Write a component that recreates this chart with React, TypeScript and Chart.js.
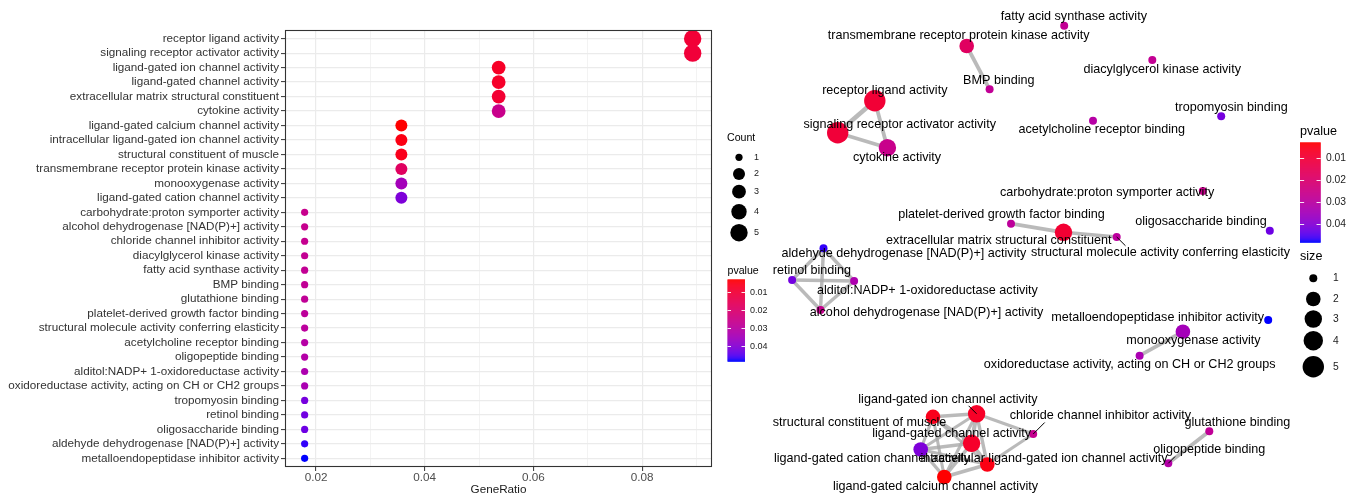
import React, { useEffect, useRef } from "react";
import { Chart, registerables } from "chart.js";

Chart.register(...registerables);

const FONT = "'Liberation Sans', Arial, Helvetica, sans-serif";

// ---------------- data ----------------
const terms = [
  "receptor ligand activity",
  "signaling receptor activator activity",
  "ligand-gated ion channel activity",
  "ligand-gated channel activity",
  "extracellular matrix structural constituent",
  "cytokine activity",
  "ligand-gated calcium channel activity",
  "intracellular ligand-gated ion channel activity",
  "structural constituent of muscle",
  "transmembrane receptor protein kinase activity",
  "monooxygenase activity",
  "ligand-gated cation channel activity",
  "carbohydrate:proton symporter activity",
  "alcohol dehydrogenase [NAD(P)+] activity",
  "chloride channel inhibitor activity",
  "diacylglycerol kinase activity",
  "fatty acid synthase activity",
  "BMP binding",
  "glutathione binding",
  "platelet-derived growth factor binding",
  "structural molecule activity conferring elasticity",
  "acetylcholine receptor binding",
  "oligopeptide binding",
  "alditol:NADP+ 1-oxidoreductase activity",
  "oxidoreductase activity, acting on CH or CH2 groups",
  "tropomyosin binding",
  "retinol binding",
  "oligosaccharide binding",
  "aldehyde dehydrogenase [NAD(P)+] activity",
  "metalloendopeptidase inhibitor activity",
];

const geneRatio = [
  0.0893, 0.0893, 0.0536, 0.0536, 0.0536, 0.0536, 0.0357, 0.0357, 0.0357, 0.0357,
  0.0357, 0.0357, 0.0179, 0.0179, 0.0179, 0.0179, 0.0179, 0.0179, 0.0179, 0.0179,
  0.0179, 0.0179, 0.0179, 0.0179, 0.0179, 0.0179, 0.0179, 0.0179, 0.0179, 0.0179,
];

const counts = [5, 5, 3, 3, 3, 3, 2, 2, 2, 2, 2, 2, 1, 1, 1, 1, 1, 1, 1, 1, 1, 1, 1, 1, 1, 1, 1, 1, 1, 1];

const pvalues = [
  0.0095, 0.0100, 0.0070, 0.0075, 0.0090, 0.0260, 0.0030, 0.0045, 0.0055, 0.0175,
  0.0350, 0.0410, 0.0262, 0.0265, 0.0268, 0.0275, 0.0278, 0.0280, 0.0282, 0.0290,
  0.0295, 0.0310, 0.0315, 0.0330, 0.0335, 0.0420, 0.0425, 0.0430, 0.0470, 0.0480,
];

const ratioTicks = [0.02, 0.03, 0.04, 0.05, 0.06, 0.07, 0.08, 0.09];
const legendCounts = [1, 2, 3, 4, 5];
const pvalueTicks = [0.01, 0.02, 0.03, 0.04];

// enrichment map layout coordinates (same order as terms)
const nodeX = [
  11.48, 7.77, 21.66, 21.16, 30.35, 12.74, 18.43, 22.73, 17.3, 20.67,
  42.29, 16.07, 44.28, 6.05, 27.32, 39.23, 30.42, 22.96, 44.93, 25.1,
  35.67, 33.3, 40.83, 9.41, 37.96, 46.12, 3.21, 50.98, 6.35, 50.82,
];
const nodeY = [
  39.73, 36.53, 8.42, 5.47, 26.57, 35.03, 2.1, 3.35, 8.12, 45.2,
  16.63, 4.85, 30.7, 18.8, 6.4, 43.8, 47.23, 40.87, 6.67, 27.43,
  26.1, 37.73, 3.47, 21.7, 14.23, 38.17, 21.8, 26.73, 24.97, 17.8,
];

// edges (term index pairs) and their similarity
const edgeFrom = [9, 0, 0, 1, 19, 4, 28, 28, 28, 26, 26, 23, 10, 18, 2, 2, 2, 2, 2, 2, 8, 8, 8, 8, 3, 3, 3, 11, 11, 7, 7];
const edgeTo = [17, 1, 5, 5, 4, 20, 26, 23, 13, 23, 13, 13, 24, 22, 8, 3, 11, 7, 6, 14, 3, 11, 6, 7, 11, 7, 6, 6, 7, 6, 14];
const edgeSimilarity = [
  0.8, 1.0, 0.8, 0.8, 0.8, 0.7, 0.7, 0.7, 0.7, 0.7, 0.7, 0.7, 0.8, 0.8, 0.7, 0.9,
  0.6, 0.7, 0.6, 0.6, 0.6, 0.6, 0.6, 0.5, 0.7, 0.8, 0.7, 0.7, 0.6, 0.8, 0.6,
];

// ---------------- style ----------------
const labelDX = [
  10, 62, -28.7, -19.9, -64.7, 9.6, -8.8, 56.7, -73.5, -8.1,
  10.5, -48.7, -95.7, 106, 67.2, 9.9, 9.6, 9.2, 28.1, -9.5,
  43.8, 8.7, 41, 73.3, -9.9, 10.1, 19.8, -68.8, 80.4, -110.6,
];
const labelDY = [
  -9.7, -8.4, -14.5, -9.3, 8.4, 10, 9.7, -5.5, 5.9, -10,
  9, 9.5, 1.3, 2.7, -18, 10, -9, -8.6, -8.6, -8.7,
  15.3, 9.3, -13.3, 9.7, 9.3, -9, -9, -9, 5.7, -2,
];
const leaderLabels = [20, 2, 14, 22];
const dotRadius: Record<number, number> = { 1: 3.6, 2: 6.0, 3: 6.9, 4: 7.7, 5: 8.7 };
const nodeRadius: Record<number, number> = { 1: 4, 2: 7.3, 3: 8.7, 4: 9.7, 5: 10.7 };

// ---------------- colour (red -> blue in Lab) ----------------
function toLinear(c: number) {
  const v = c / 255;
  return v <= 0.04045 ? v / 12.92 : Math.pow((v + 0.055) / 1.055, 2.4);
}
function fromLinear(c: number) {
  const v = c <= 0.0031308 ? 12.92 * c : 1.055 * Math.pow(c, 1 / 2.4) - 0.055;
  return Math.round(Math.max(0, Math.min(1, v)) * 255);
}
function rgbToLab(rgb: number[]) {
  const R = toLinear(rgb[0]), G = toLinear(rgb[1]), B = toLinear(rgb[2]);
  const X = (0.4124 * R + 0.3576 * G + 0.1805 * B) / 0.95047;
  const Y = 0.2126 * R + 0.7152 * G + 0.0722 * B;
  const Z = (0.0193 * R + 0.1192 * G + 0.9505 * B) / 1.08883;
  const f = (t: number) => (t > 0.008856 ? Math.cbrt(t) : 7.787 * t + 16 / 116);
  const fx = f(X), fy = f(Y), fz = f(Z);
  return [116 * fy - 16, 500 * (fx - fy), 200 * (fy - fz)];
}
function labToRgb(L: number, a: number, b: number) {
  const fy = (L + 16) / 116, fx = fy + a / 500, fz = fy - b / 200;
  const inv = (t: number) => (t * t * t > 0.008856 ? t * t * t : (t - 16 / 116) / 7.787);
  const X = 0.95047 * inv(fx), Y = inv(fy), Z = 1.08883 * inv(fz);
  const R = 3.2406 * X - 1.5372 * Y - 0.4986 * Z;
  const G = -0.9689 * X + 1.8758 * Y + 0.0415 * Z;
  const B = 0.0557 * X - 0.204 * Y + 1.057 * Z;
  return [fromLinear(R), fromLinear(G), fromLinear(B)];
}
const LOW_LAB = rgbToLab([255, 0, 0]);
const HIGH_LAB = rgbToLab([0, 0, 255]);
function gradientColor(t: number) {
  const u = Math.max(0, Math.min(1, t));
  const c = labToRgb(
    LOW_LAB[0] + (HIGH_LAB[0] - LOW_LAB[0]) * u,
    LOW_LAB[1] + (HIGH_LAB[1] - LOW_LAB[1]) * u,
    LOW_LAB[2] + (HIGH_LAB[2] - LOW_LAB[2]) * u
  );
  return `rgb(${c[0]},${c[1]},${c[2]})`;
}
const pLow = Math.min(...pvalues);
const pHigh = Math.max(...pvalues);
const pColor = (p: number) => gradientColor((p - pLow) / (pHigh - pLow));

function drawColorbar(
  ctx: CanvasRenderingContext2D,
  x: number, y: number, w: number, h: number,
  titleY: number, titleSize: number, labelX: number, labelSize: number
) {
  ctx.save();
  ctx.fillStyle = "#000";
  ctx.font = `${titleSize}px ${FONT}`;
  ctx.textAlign = "left";
  ctx.textBaseline = "middle";
  ctx.fillText("pvalue", x, titleY);
  for (let i = 0; i < h; i++) {
    ctx.fillStyle = gradientColor(i / (h - 1));
    ctx.fillRect(x, y + i, w, 1.5);
  }
  ctx.strokeStyle = "rgba(255,255,255,0.9)";
  ctx.lineWidth = 1;
  ctx.font = `${labelSize}px ${FONT}`;
  pvalueTicks.forEach((v) => {
    const ty = Math.round(y + ((v - pLow) / (pHigh - pLow)) * h) + 0.5;
    ctx.beginPath();
    ctx.moveTo(x, ty);
    ctx.lineTo(x + w / 5, ty);
    ctx.moveTo(x + w - w / 5, ty);
    ctx.lineTo(x + w, ty);
    ctx.stroke();
    ctx.fillStyle = "#1A1A1A";
    ctx.fillText(v.toFixed(2), labelX, ty);
  });
  ctx.restore();
}

function drawSizeLegend(
  ctx: CanvasRenderingContext2D, title: string, titleX: number, titleY: number, titleSize: number,
  cx: number, ys: number[], radius: Record<number, number>, labelX: number, labelSize: number
) {
  ctx.save();
  ctx.fillStyle = "#000";
  ctx.font = `${titleSize}px ${FONT}`;
  ctx.textAlign = "left";
  ctx.textBaseline = "middle";
  ctx.fillText(title, titleX, titleY);
  ctx.font = `${labelSize}px ${FONT}`;
  legendCounts.forEach((c, i) => {
    ctx.fillStyle = "#000";
    ctx.beginPath();
    ctx.arc(cx, ys[i], radius[c], 0, Math.PI * 2);
    ctx.fill();
    ctx.fillStyle = "#1A1A1A";
    ctx.fillText(String(c), labelX, ys[i]);
  });
  ctx.restore();
}

const isMajor = (v: number) => Math.round(v * 100) % 2 === 0;

export default function App() {
  const leftRef = useRef<HTMLCanvasElement>(null);
  const rightRef = useRef<HTMLCanvasElement>(null);

  useEffect(() => {
    if (!leftRef.current || !rightRef.current) return;

    const panelBorder = {
      id: "panelBorder",
      afterDatasetsDraw(chart: any) {
        const { ctx, chartArea } = chart;
        ctx.save();
        ctx.strokeStyle = "#333333";
        ctx.lineWidth = 1.1;
        ctx.strokeRect(chartArea.left + 0.5, chartArea.top + 0.5, chartArea.right - chartArea.left - 1, chartArea.bottom - chartArea.top - 1);
        ctx.restore();
      },
    };
    const dotLegend = {
      id: "dotLegend",
      afterDraw(chart: any) {
        const ctx = chart.ctx;
        drawSizeLegend(ctx, "Count", 727, 138, 10.6, 739, [157.3, 174, 191.7, 211.7, 232.7], dotRadius, 754, 9);
        drawColorbar(ctx, 727.5, 279.3, 17.5, 81.4, 270.7, 10.6, 750, 9);
      },
    };

    const xMin = 0.014286;
    const xMax = 0.092857;

    const dotChart = new Chart(leftRef.current, {
      type: "scatter",
      data: {
        datasets: [
          {
            data: terms.map((_, i) => ({ x: geneRatio[i], y: i })),
            pointRadius: counts.map((c) => dotRadius[c]),
            pointBackgroundColor: pvalues.map(pColor),
            pointBorderWidth: 0,
            pointBorderColor: "rgba(0,0,0,0)",
          },
        ],
      },
      options: {
        responsive: false,
        animation: false,
        events: [],
        layout: { autoPadding: false, padding: { top: 30, right: 78, left: 0, bottom: 0 } },
        plugins: { legend: { display: false }, tooltip: { enabled: false } },
        scales: {
          x: {
            type: "linear",
            min: xMin,
            max: xMax,
            afterBuildTicks: (s: any) => {
              s.ticks = ratioTicks.map((v) => ({ value: v }));
            },
            afterFit: (s: any) => {
              s.height = 31;
            },
            ticks: {
              autoSkip: false,
              maxRotation: 0,
              padding: 0,
              color: "#4D4D4D",
              font: { family: FONT, size: 11.7 },
              callback: (v: any) => (isMajor(Number(v)) ? Number(v).toFixed(2) : ""),
            },
            grid: {
              color: "#EBEBEB",
              lineWidth: (c: any) => (c.tick && isMajor(c.tick.value) ? 1.2 : 0.6),
              tickLength: 4,
              tickWidth: 1,
              tickColor: (c: any) => (c.tick && isMajor(c.tick.value) ? "#333333" : "rgba(0,0,0,0)"),
            },
            border: { display: false },
            title: {
              display: true,
              text: "GeneRatio",
              color: "#1A1A1A",
              font: { family: FONT, size: 11.7 },
              padding: { top: 0, bottom: 1.5 },
            },
          },
          y: {
            type: "linear",
            min: -0.6,
            max: terms.length - 0.4,
            reverse: true,
            afterBuildTicks: (s: any) => {
              s.ticks = terms.map((_, i) => ({ value: i }));
            },
            afterFit: (s: any) => {
              s.width = 285;
            },
            ticks: {
              autoSkip: false,
              padding: 2,
              color: "#333333",
              font: { family: FONT, size: 11.7 },
              callback: (v: any) => terms[Number(v)] ?? "",
            },
            grid: { color: "#EBEBEB", lineWidth: 1.2, tickLength: 4, tickColor: "#333333", tickWidth: 1 },
            border: { display: false },
          },
        },
      },
      plugins: [panelBorder, dotLegend],
    } as any);

    const netLabels = {
      id: "netLabels",
      afterDatasetsDraw(chart: any) {
        const { ctx } = chart;
        const xs = chart.scales.x;
        const ys = chart.scales.y;
        ctx.save();
        ctx.font = `12.6px ${FONT}`;
        ctx.textAlign = "center";
        ctx.textBaseline = "middle";
        terms.forEach((t, i) => {
          const px = xs.getPixelForValue(nodeX[i]);
          const py = ys.getPixelForValue(nodeY[i]);
          const lx = px + labelDX[i];
          const ly = py + labelDY[i];
          if (leaderLabels.includes(i)) {
            const gap = Math.abs(labelDY[i]) - 6.5;
            const ex = px + Math.sign(labelDX[i]) * gap;
            const ey = py + Math.sign(labelDY[i]) * gap;
            ctx.strokeStyle = "#000";
            ctx.lineWidth = 1;
            ctx.beginPath();
            ctx.moveTo(px, py);
            ctx.lineTo(ex, ey);
            ctx.stroke();
          }
          ctx.fillStyle = "#000";
          ctx.fillText(t, lx, ly);
        });
        ctx.restore();
      },
    };
    const netLegend = {
      id: "netLegend",
      afterDraw(chart: any) {
        const ctx = chart.ctx;
        drawColorbar(ctx, 540, 142.3, 20.7, 99.4, 131.7, 12.6, 566, 10.3);
        drawSizeLegend(ctx, "size", 540, 256.7, 12.6, 553.3, [278.3, 299, 319, 340.7, 366.7], nodeRadius, 573, 10.3);
      },
    };

    const edgeSets = edgeFrom.map((a, k) => ({
      data: [
        { x: nodeX[a], y: nodeY[a] },
        { x: nodeX[edgeTo[k]], y: nodeY[edgeTo[k]] },
      ],
      showLine: true,
      borderColor: "rgba(169,169,169,0.8)",
      borderWidth: 1 + 3.5 * edgeSimilarity[k],
      pointRadius: 0,
      order: 1,
    }));

    const netChart = new Chart(rightRef.current, {
      type: "scatter",
      data: {
        datasets: [
          {
            data: nodeX.map((x, i) => ({ x, y: nodeY[i] })),
            pointRadius: counts.map((c) => nodeRadius[c]),
            pointBackgroundColor: pvalues.map(pColor),
            pointBorderWidth: 0,
            pointBorderColor: "rgba(0,0,0,0)",
            order: 0,
          },
          ...edgeSets,
        ],
      },
      options: {
        responsive: false,
        animation: false,
        events: [],
        layout: { autoPadding: false, padding: 0 },
        plugins: { legend: { display: false }, tooltip: { enabled: false } },
        scales: {
          x: { type: "linear", min: 0, max: 60, display: false },
          y: { type: "linear", min: 0, max: 49.8, display: false },
        },
      },
      plugins: [netLabels, netLegend],
    } as any);

    return () => {
      dotChart.destroy();
      netChart.destroy();
    };
  }, []);

  return (
    <div style={{ position: "absolute", left: 0, top: 0, width: 1360, height: 498, background: "#fff" }}>
      <canvas ref={leftRef} width={790} height={498} style={{ position: "absolute", left: 0, top: 0, width: 790, height: 498 }} />
      <canvas ref={rightRef} width={600} height={498} style={{ position: "absolute", left: 760, top: 0, width: 600, height: 498 }} />
    </div>
  );
}
